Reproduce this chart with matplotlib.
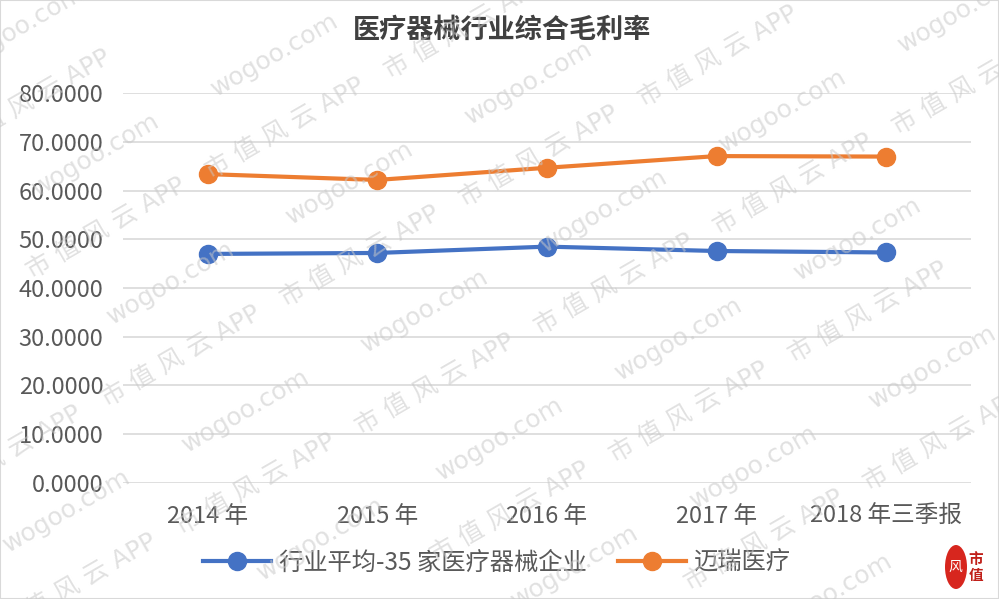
import numpy as np
import matplotlib
matplotlib.use("Agg")
import matplotlib.pyplot as plt
from matplotlib.lines import Line2D
from matplotlib.patches import Rectangle, Ellipse

plt.rcParams['font.family'] = ['Noto Sans CJK SC', 'DejaVu Sans']

# ---- data ----
categories = ["2014 年", "2015 年", "2016 年", "2017 年", "2018 年三季报"]
industry_avg = [47.0, 47.2, 48.5, 47.6, 47.3]
mindray = [63.4, 62.2, 64.7, 67.1, 67.0]
series_names = ["行业平均-35 家医疗器械企业", "迈瑞医疗"]
title = "医疗器械行业综合毛利率"
yticks = [0, 10, 20, 30, 40, 50, 60, 70, 80]

blue = "#4472C4"
orange = "#ED7D31"
tick_color = "#595959"

W, H = 999, 599
fig = plt.figure(figsize=(W / 100, H / 100), dpi=100)
ax = fig.add_axes([122.7 / W, 1 - 482.7 / H, (971 - 122.7) / W, (482.7 - 93.3) / H])

x = np.arange(len(categories))
ax.plot(x, industry_avg, color=blue, lw=3, marker='o', ms=13, zorder=3,
        solid_capstyle='round')
ax.plot(x, mindray, color=orange, lw=3, marker='o', ms=13, zorder=3,
        solid_capstyle='round')

ax.set_xlim(-0.5, len(categories) - 0.5)
ax.set_ylim(0, 80)
ax.set_yticks(yticks)
ax.set_yticklabels([f"{v:.4f}" for v in yticks])
ax.set_xticks(x)
ax.set_xticklabels(categories)
ax.tick_params(axis='both', length=0, labelsize=17, colors=tick_color)
ax.tick_params(axis='y', pad=14)
ax.tick_params(axis='x', pad=16)
ax.grid(axis='y', color='#d9d9d9', lw=1.2)
ax.set_axisbelow(True)
for s in ax.spines.values():
    s.set_visible(False)

fig.text(502 / W, 1 - 30 / H, title, ha='center', va='center', fontsize=19.5,
         color='#404040', fontweight='bold')

handles = [Line2D([], [], color=blue, lw=3, marker='o', ms=13),
           Line2D([], [], color=orange, lw=3, marker='o', ms=13)]
fig.legend(handles, series_names, loc='center', bbox_to_anchor=(497 / W, 1 - 563 / H),
           ncol=2, frameon=False, fontsize=17.5, handlelength=2.8,
           handletextpad=0.33, columnspacing=1.3, labelcolor=tick_color)

# border
fig.patches.append(Rectangle((0, 0), 1, 1, transform=fig.transFigure, fill=False,
                             edgecolor='#d9d9d9', lw=1.5))

# watermark (decorative, tiled like the reference, partially cut at the edges)
va_ = np.array([75.0, 128.0])
vb_ = np.array([179.0, -100.0])
origin = np.array([285.0, 128.0])
woff = np.array([-10.0, -73.0])
wm_font = ['DejaVu Sans', 'Noto Sans CJK SC']
for i in range(-10, 11):
    for j in range(-10, 11):
        base = origin + i * va_ + j * vb_
        for txt, p in (("市 值 风 云 APP", base), ("wogoo.com", base + woff)):
            if 0 < p[0] < W and 0 < p[1] < H:
                fig.text(p[0] / W, 1 - p[1] / H, txt, rotation=30, ha='center',
                         va='center', rotation_mode='anchor', fontsize=18,
                         family=wm_font, color='#c8c8c8', alpha=0.55, zorder=10)

# logo
fig.patches.append(Ellipse((956 / W, 1 - 567 / H), 22 / W, 44 / H, transform=fig.transFigure,
                           facecolor='#d7261e', edgecolor='none', zorder=11))
fig.text(955 / W, 1 - 567 / H, "风", ha='center', va='center', fontsize=10, color='white',
         zorder=12)
fig.text(976 / W, 1 - 567 / H, "市\n值", ha='center', va='center', fontsize=10.5,
         color='#c0201a', linespacing=1.0, zorder=12, fontweight='bold')

fig.savefig("out.png", dpi=100)
